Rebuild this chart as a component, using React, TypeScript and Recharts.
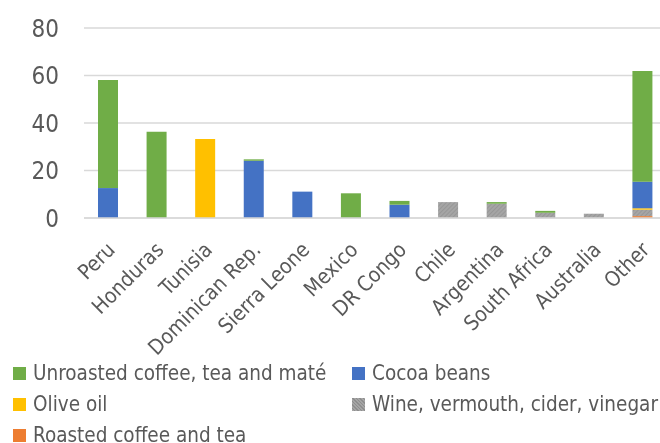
import React from 'react';
import { BarChart, Bar, XAxis, YAxis, CartesianGrid, Legend } from 'recharts';

const categories = ['Peru', 'Honduras', 'Tunisia', 'Dominican Rep.', 'Sierra Leone', 'Mexico', 'DR Congo', 'Chile', 'Argentina', 'South Africa', 'Australia', 'Other'];
const roasted = [0, 0, 0, 0, 0, 0, 0, 0, 0, 0, 0, 0.8];
const wine = [0, 0, 0, 0, 0, 0, 0, 6.7, 6.0, 2.2, 1.8, 2.7];
const olive = [0, 0, 33.3, 0, 0, 0, 0, 0, 0, 0, 0, 0.6];
const cocoa = [12.6, 0, 0, 24.1, 11.1, 0, 5.6, 0, 0, 0, 0, 11.2];
const unroasted = [45.5, 36.3, 0, 0.6, 0, 10.4, 1.6, 0, 0.7, 0.8, 0, 46.6];
const yTicks = [0, 20, 40, 60, 80];

const series = [
  { key: 'roasted', name: 'Roasted coffee and tea', color: '#ED7D31' },
  { key: 'wine', name: 'Wine, vermouth, cider, vinegar', color: 'url(#hatch)' },
  { key: 'olive', name: 'Olive oil', color: '#FFC000' },
  { key: 'cocoa', name: 'Cocoa beans', color: '#4472C4' },
  { key: 'unroasted', name: 'Unroasted coffee, tea and maté', color: '#70AD47' },
];

const data = categories.map((c, i) => ({
  name: c,
  roasted: roasted[i],
  wine: wine[i],
  olive: olive[i],
  cocoa: cocoa[i],
  unroasted: unroasted[i],
}));

const FONT = '"DejaVu Sans Condensed", "Liberation Sans", sans-serif';
const TEXT = '#595959';

const XTick = (props: any) => {
  const { x, y, payload } = props;
  const ax = x + 8;
  const ay = y + 25;
  return (
    <text x={ax} y={ay} transform={`rotate(-45, ${ax}, ${ay})`} textAnchor="end" fill={TEXT} fontSize={21} fontFamily={FONT}>
      {payload.value}
    </text>
  );
};

// legend layout: [seriesKey, left, row]
const legendLayout: [string, number, number][] = [
  ['unroasted', 5, 0],
  ['cocoa', 344, 0],
  ['olive', 5, 1],
  ['wine', 344, 1],
  ['roasted', 5, 2],
];

const hatchCss = 'repeating-linear-gradient(45deg, #A5A5A5 0px, #A5A5A5 1.5px, #8E8E8E 1.5px, #8E8E8E 2.5px)';

const CustomLegend = () => (
  <div style={{ position: 'relative', width: 652, height: 83, fontFamily: FONT }}>
    {legendLayout.map(([key, left, row]) => {
      const s = series.find((q) => q.key === key)!;
      const bg = key === 'wine' ? hatchCss : s.color;
      return (
        <div key={key} style={{ position: 'absolute', left, top: row * 31, height: 26, display: 'flex', alignItems: 'center', whiteSpace: 'nowrap' }}>
          <div style={{ width: 13, height: 13, background: bg, marginRight: 7 }} />
          <span style={{ fontSize: 20.5, color: TEXT }}>{s.name}</span>
        </div>
      );
    })}
  </div>
);

export default function App() {
  return (
    <div style={{ position: 'fixed', left: 8, top: 8, width: 652, height: 435, overflow: 'hidden' }}>
      <BarChart width={662} height={435} data={data} margin={{ top: 20, right: 3, left: 0, bottom: 0 }} barSize={20}>
        <defs>
          <pattern id="hatch" patternUnits="userSpaceOnUse" width="3" height="3" patternTransform="rotate(45)">
            <rect width="3" height="3" fill="#A5A5A5" />
            <line x1="0" y1="0" x2="0" y2="3" stroke="#8E8E8E" strokeWidth="1.2" />
          </pattern>
        </defs>
        <CartesianGrid vertical={false} stroke="#D9D9D9" strokeWidth={1.5} />
        <XAxis dataKey="name" interval={0} height={142} tick={<XTick />} tickLine={false} axisLine={{ stroke: '#D9D9D9', strokeWidth: 1.5 }} />
        <YAxis width={76} domain={[0, 80]} ticks={yTicks} tickLine={false} axisLine={false} tickSize={0} tickMargin={25} tick={{ fill: TEXT, fontSize: 24, fontFamily: FONT }} />
        <Legend verticalAlign="bottom" align="left" height={83} wrapperStyle={{ left: 0 }} content={<CustomLegend />} />
        {series.map((s) => (
          <Bar key={s.key} dataKey={s.key} name={s.name} stackId="a" fill={s.color} isAnimationActive={false} />
        ))}
      </BarChart>
    </div>
  );
}
